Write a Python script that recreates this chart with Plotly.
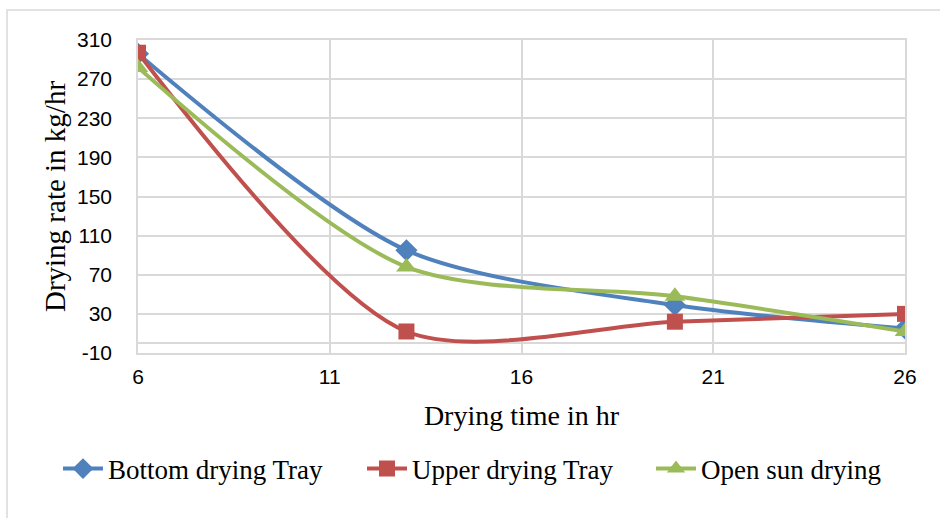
import plotly.graph_objects as go

time_hr = [6, 13, 20, 26]
bottom_tray = [296, 95, 39, 15]
upper_tray = [297, 12, 22, 30]
open_sun = [282, 78, 48, 12]

x_ticks = [6, 11, 16, 21, 26]
y_ticks = [-10, 30, 70, 110, 150, 190, 230, 270, 310]
y_tick_text = ["-10", "30", "70", "110", "150", "190", "230", "270", "310"]

series = [
    ("Bottom drying Tray", bottom_tray, "#4F81BD", "diamond", 17, "legend", 58),
    ("Upper drying Tray", upper_tray, "#C0504D", "square", 16, "legend2", 362),
    ("Open sun drying", open_sun, "#9BBB59", "triangle-up", 18, "legend3", 651),
]

grid = "#d9d9d9"
serif = "Liberation Serif"

fig = go.Figure()
legends = {}
for name, vals, color, sym, size, leg, lx in series:
    fig.add_trace(go.Scatter(
        x=time_hr, y=vals, name=name, mode="lines+markers", legend=leg,
        line=dict(color=color, width=4, shape="spline", smoothing=0.8),
        marker=dict(symbol=sym, size=size, color=color),
    ))
    legends[leg] = dict(orientation="h", xref="container", yref="container",
                        x=lx / 940, xanchor="left", y=1 - 469 / 518, yanchor="middle",
                        font=dict(family=serif, size=27, color="#000"),
                        itemwidth=40, bgcolor="rgba(0,0,0,0)")

fig.update_layout(
    width=940, height=518,
    margin=dict(l=138, r=35, t=40, b=165, autoexpand=False),
    paper_bgcolor="white", plot_bgcolor="white",
    showlegend=True,
    xaxis=dict(range=[6, 26], tickvals=x_ticks, ticktext=[str(v) for v in x_ticks],
               automargin=False,
               showgrid=True, gridcolor=grid, gridwidth=1.5,
               showline=True, linecolor=grid, linewidth=1.5, mirror=True,
               zeroline=False, ticks="outside", ticklen=4, tickcolor="rgba(0,0,0,0)",
               tickfont=dict(family="Liberation Sans", size=21, color="#000"),
               title=dict(text="Drying time in hr", standoff=18,
                          font=dict(family=serif, size=28, color="#000"))),
    yaxis=dict(range=[-10, 310], tickvals=y_ticks, ticktext=y_tick_text,
               automargin=False,
               showgrid=True, gridcolor=grid, gridwidth=1.5,
               showline=True, linecolor=grid, linewidth=1.5, mirror=True,
               zeroline=True, zerolinecolor=grid, zerolinewidth=1.5,
               ticks="outside", ticklen=20, tickcolor="rgba(0,0,0,0)",
               tickfont=dict(family="Liberation Sans", size=21, color="#000"),
               title=dict(text="Drying rate in kg/hr", standoff=3,
                          font=dict(family=serif, size=29, color="#000"))),
    shapes=[dict(type="rect", xref="paper", yref="paper",
                 x0=(7 - 138) / 767, x1=(960 - 138) / 767,
                 y0=-0.8, y1=1 + (40 - 10) / 313,
                 line=dict(color="#d9d9d9", width=1.5), layer="below")],
    **legends,
)

fig.write_html("out.html")
